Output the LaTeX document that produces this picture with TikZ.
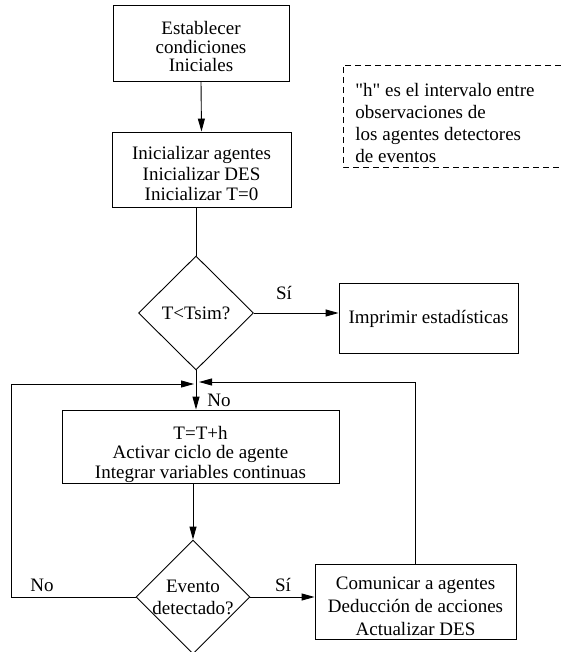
\documentclass[tikz,border=0pt]{standalone}
\usepackage{fontspec}
\setmainfont{Liberation Serif}[Ligatures=TeXOff]
\usetikzlibrary{shapes.geometric,arrows.meta}
\newcommand{\fs}[1]{\fontsize{19pt}{#1}\selectfont}
\begin{document}
\begin{tikzpicture}[x=1pt,y=-1pt,
  line width=0.9pt,
  every node/.style={font=\fs{21pt}},
  box/.style={draw,rectangle,inner sep=0pt},
  txt/.style={inner sep=0pt,align=center},
  decision/.style={draw,diamond,aspect=1,inner sep=0pt},
  arr/.style={-{Triangle[length=13pt,width=7pt]}},
  lbl/.style={inner sep=0pt}]
\useasboundingbox (0,0) rectangle (560,652);

% process boxes
\node[box,minimum width=176pt,minimum height=76pt] (b1) at (201,43) {};
\node[txt,font=\fs{18.5pt}] (b1t) at (201,47) {Establecer\\condiciones\\Iniciales};
\node[box,minimum width=179pt,minimum height=75pt] (b2) at (201.5,169.5) {};
\node[txt,font=\fs{20.5pt}] (b2t) at (201.5,174) {Inicializar agentes\\Inicializar DES\\Inicializar T=0};
\node[box,minimum width=179pt,minimum height=70pt] (imp) at (428.5,318) {};
\node[txt] (impt) at (428.5,319) {Imprimir estadísticas};
\node[box,minimum width=277pt,minimum height=73pt] (b3) at (200.5,446.5) {};
\node[txt,font=\fs{19.5pt}] (b3t) at (200.5,454) {T=T+h\\Activar ciclo de agente\\Integrar variables continuas};
\node[box,minimum width=201pt,minimum height=75pt] (com) at (415.5,601.5) {};
\node[txt,font=\fs{23pt}] (comt) at (415.5,606) {Comunicar a agentes\\Deducción de acciones\\Actualizar DES};

% decisions
\node[decision,minimum width=115pt,minimum height=114pt] (d1) at (196,313) {};
\node[lbl] (d1t) at (d1) {T<Tsim?};
\node[decision,minimum width=114pt,minimum height=114pt] (d2) at (193,597) {};
\node[txt,font=\fs{22pt}] (d2t) at (193,597) {Evento\\detectado?};

% note
\draw[dashed,dash pattern=on 6pt off 4pt] (561,65) -- (343,65) -- (343,167) -- (561,167);
\node[lbl,anchor=west,align=left,font=\fs{22pt}] (note) at (355,123)
  {"h" es el intervalo entre\\observaciones de\\los agentes detectores\\de eventos};

% junction where the loops meet
\coordinate (m) at (196,383);
\coordinate (lx) at (11,0);

% connectors
\draw[arr] (b1.south) -- (b2.north);
\draw (b2.south -| d1.north) -- (d1.north);
\draw[arr] (d1.east) -- (d1.east -| imp.west);
\draw[arr] (d1.south) -- (b3.north -| d1.south);
\draw[arr] (b3.south -| d2.north) -- (d2.north);
\draw[arr] (d2.east) -- (d2.east -| com.west);
\draw[arr] (d2.west) -- (d2.west -| lx) |- ([xshift=-2pt,yshift=-1pt]m);
\draw[arr] (com.north) |- ([xshift=3pt,yshift=1pt]m);

% branch labels
\node[lbl] (s1) at (284,293) {Sí};
\node[lbl] (n1) at (219,400) {No};
\node[lbl] (n2) at (42,585) {No};
\node[lbl] (s2) at (283,585) {Sí};
\end{tikzpicture}
\end{document}
